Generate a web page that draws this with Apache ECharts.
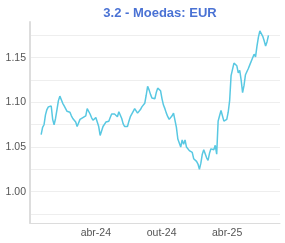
<!DOCTYPE html>
<html><head><meta charset="utf-8">
<script src="https://cdn.jsdelivr.net/npm/echarts@6/dist/echarts.min.js"></script>
<style>html,body{margin:0;padding:0;background:#fff}#c{width:285px;height:243px}</style>
</head><body><div id="c"></div>
<script>
// EUR/USD observations every 4 days, starting 2023-11-01
var startDate = '2023-11-01';
var stepDays = 4;
var eurValues = [
  1.064, 1.072, 1.075, 1.086, 1.092, 1.095, 1.097, 1.096, 1.081, 1.075,
  1.082, 1.092, 1.102, 1.107, 1.107, 1.099, 1.096, 1.093, 1.090, 1.0895,
  1.089, 1.085, 1.082, 1.081, 1.078, 1.073, 1.077, 1.081, 1.083, 1.083,
  1.083, 1.085, 1.093, 1.091, 1.087, 1.083, 1.080, 1.079, 1.083, 1.082,
  1.073, 1.063, 1.068, 1.073, 1.075, 1.078, 1.077, 1.079, 1.083, 1.087,
  1.087, 1.087, 1.089, 1.084, 1.0895, 1.089, 1.082, 1.076, 1.073, 1.072,
  1.073, 1.079, 1.084, 1.086, 1.090, 1.093, 1.091, 1.088, 1.087, 1.092,
  1.095, 1.093, 1.099, 1.108, 1.118, 1.114, 1.109, 1.105, 1.106, 1.104,
  1.111, 1.116, 1.117, 1.113, 1.104, 1.097, 1.093, 1.088, 1.084, 1.081,
  1.081, 1.085, 1.088, 1.088, 1.072, 1.059, 1.058, 1.050, 1.058, 1.053,
  1.058, 1.050, 1.049, 1.046, 1.045, 1.044, 1.037, 1.039, 1.034, 1.031,
  1.025, 1.032, 1.042, 1.047, 1.047, 1.038, 1.035, 1.043, 1.048, 1.050,
  1.047, 1.052, 1.042, 1.079, 1.085, 1.091, 1.089, 1.079, 1.078, 1.081,
  1.089, 1.102, 1.130, 1.137, 1.144, 1.146, 1.141, 1.133, 1.136, 1.125,
  1.111, 1.119, 1.131, 1.133, 1.138, 1.142, 1.144, 1.150, 1.154, 1.151,
  1.163, 1.173, 1.180, 1.178, 1.174, 1.169, 1.163, 1.168, 1.175
];
var xLabelDates = ['2024-04-01', '2024-10-01', '2025-04-01'];
var yLabelValues = [1.00, 1.05, 1.10, 1.15];
var yGridValues = [0.975, 1.00, 1.025, 1.05, 1.075, 1.10, 1.125, 1.15, 1.175];
var monthsPt = ['jan','fev','mar','abr','mai','jun','jul','ago','set','out','nov','dez'];

function ts(s) { return Date.parse(s + 'T00:00:00Z'); }
var t0 = ts(startDate);
var seriesData = eurValues.map(function (v, i) { return [t0 + i * stepDays * 86400000, v]; });

var chart = echarts.init(document.getElementById('c'), null, {renderer: 'canvas'});
chart.setOption({
  animation: false,
  title: {
    text: '3.2 - Moedas: EUR', left: 155, top: 2, textAlign: 'center',
    textStyle: {fontFamily: 'Liberation Sans, Arial, sans-serif', fontSize: 13, fontWeight: 'bold', color: '#4a72d4'}
  },
  grid: {left: 30, right: 5, top: 22, bottom: 20, containLabel: false},
  xAxis: {
    type: 'value', min: ts('2023-10-01'), max: ts('2025-08-26'),
    axisLine: {show: true, lineStyle: {color: '#dcdcdc', width: 1}},
    axisTick: {show: false},
    splitLine: {show: false},
    axisLabel: {
      customValues: xLabelDates.map(ts),
      margin: 5, color: '#555', fontSize: 10.5, fontFamily: 'Liberation Sans, Arial, sans-serif',
      formatter: function (val) {
        var d = new Date(val);
        return monthsPt[d.getUTCMonth()] + '-' + String(d.getUTCFullYear()).slice(2);
      }
    }
  },
  yAxis: {
    type: 'value', min: 0.965, max: 1.19,
    axisLine: {show: true, lineStyle: {color: '#dddddd', width: 2}},
    axisTick: {show: false, customValues: yGridValues},
    splitLine: {show: true, lineStyle: {color: '#eeeeee', width: 1}},
    axisLabel: {
      customValues: yLabelValues, margin: 4, color: '#555', fontSize: 10.5,
      fontFamily: 'Liberation Sans, Arial, sans-serif',
      formatter: function (v) { return v.toFixed(2); }
    }
  },
  series: [{
    type: 'line', data: seriesData, showSymbol: false, symbol: 'none',
    lineStyle: {color: '#58c8e2', width: 1.5}
  }]
});
</script></body></html>
